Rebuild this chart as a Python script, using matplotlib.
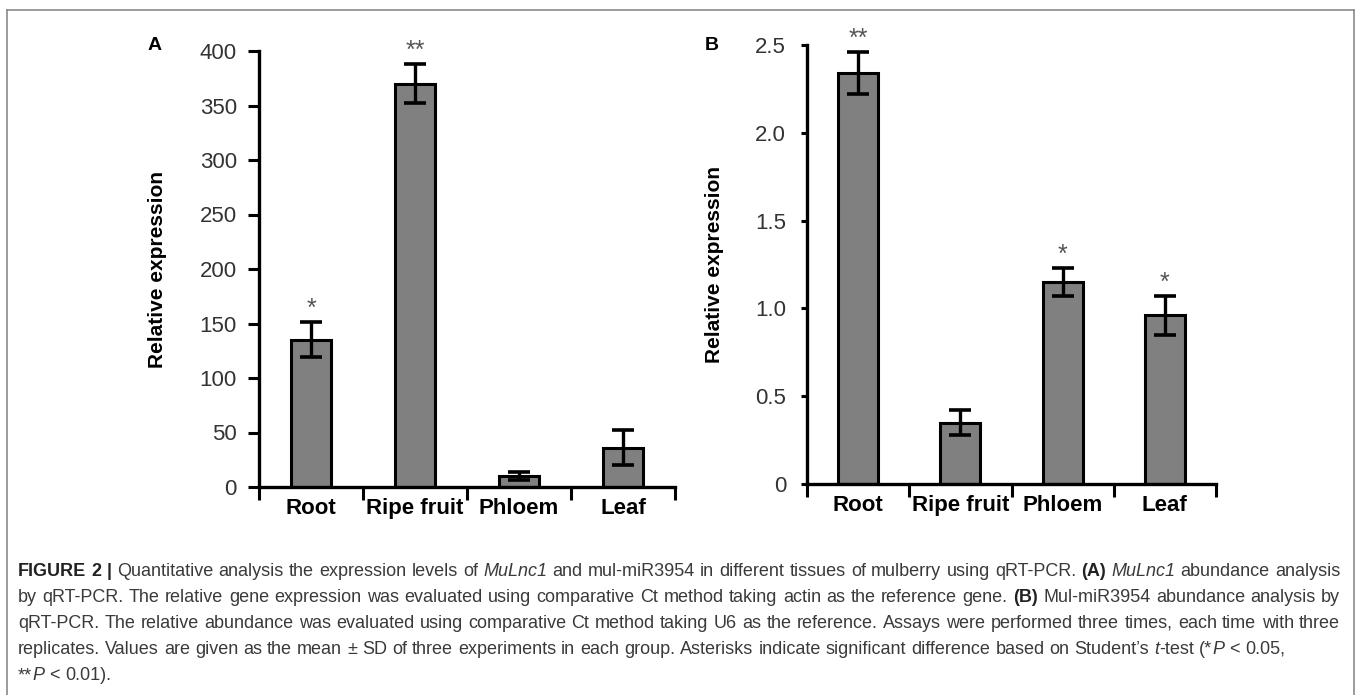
import matplotlib
matplotlib.use("Agg")
import matplotlib.pyplot as plt
from matplotlib.lines import Line2D
import numpy as np

# ---------------- data ----------------
categories = ["Root", "Ripe fruit", "Phloem", "Leaf"]

a_values = [135, 370, 10, 36]
a_errors = [16, 18, 4, 16]
a_marks = ["*", "**", "", ""]
a_yticks = [0, 50, 100, 150, 200, 250, 300, 350, 400]
a_ylabels = ["0", "50", "100", "150", "200", "250", "300", "350", "400"]

b_values = [2.34, 0.35, 1.15, 0.96]
b_errors = [0.12, 0.07, 0.08, 0.11]
b_marks = ["**", "", "*", "*"]
b_yticks = [0, 0.5, 1.0, 1.5, 2.0, 2.5]
b_ylabels = ["0", "0.5", "1.0", "1.5", "2.0", "2.5"]

ylabel_text = "Relative expression"

caption_lines = [
    [("FIGURE 2 |", "b"), (" Quantitative analysis the expression levels of ", "n"), ("MuLnc1", "i"),
     (" and mul-miR3954 in different tissues of mulberry using qRT-PCR. ", "n"), ("(A)", "b"), (" ", "n"),
     ("MuLnc1", "i"), (" abundance analysis", "n")],
    [("by qRT-PCR. The relative gene expression was evaluated using comparative Ct method taking actin as the reference gene. ", "n"),
     ("(B)", "b"), (" Mul-miR3954 abundance analysis by", "n")],
    [("qRT-PCR. The relative abundance was evaluated using comparative Ct method taking U6 as the reference. Assays were performed three times, each time with three", "n")],
    [("replicates. Values are given as the mean \u00b1 SD of three experiments in each group. Asterisks indicate significant difference based on Student\u2019s ", "n"),
     ("t", "i"), ("-test (*", "n"), ("P", "i"), (" < 0.05,", "n")],
    [("**", "n"), ("P", "i"), (" < 0.01).", "n")],
]
caption_justify = [True, True, True, False, False]

# ---------------- style ----------------
W, H = 1358, 695
plt.rcParams["font.family"] = ["Liberation Sans", "DejaVu Sans"]
fig = plt.figure(figsize=(W / 100, H / 100), dpi=100)
fig.patch.set_facecolor("white")

BAR_COLOR = "#808080"
TICK_COLOR = "#333333"


def px_rect(left, right, y0, ytop):
    return [left / W, 1 - y0 / H, (right - left) / W, (y0 - ytop) / H]


def panel(rect, values, errors, marks, yticks, ylabels, ymax, letter, letter_xy,
          ytick_len, ytick_pad, ylabel_x):
    ax = fig.add_axes(rect)
    x = np.arange(len(categories)) + 0.5
    ax.bar(x, values, width=0.39, color=BAR_COLOR, edgecolor="black", linewidth=2.2, zorder=2)
    ax.errorbar(x, values, yerr=errors, fmt="none", ecolor="black", elinewidth=2.4,
                capsize=8, capthick=2.6, zorder=3)
    for xi, v, e, m in zip(x, values, errors, marks):
        if m:
            ax.annotate(m, (xi, v + e), xytext=(0, 1), textcoords="offset points",
                        ha="center", va="bottom", fontsize=18, color="#555555",
                        annotation_clip=False)
    ax.set_xlim(0, len(categories))
    ax.set_ylim(0, ymax)
    for s in ["top", "right"]:
        ax.spines[s].set_visible(False)
    for s in ["left", "bottom"]:
        ax.spines[s].set_linewidth(2.4)
    ax.set_yticks(yticks)
    ax.set_yticklabels(ylabels, fontsize=16, color=TICK_COLOR)
    ax.tick_params(axis="y", direction="out", length=ytick_len, width=2.2, pad=ytick_pad)
    # x: ticks at category boundaries, labels at centers
    ax.set_xticks(np.arange(len(categories) + 1))
    ax.set_xticklabels([""] * (len(categories) + 1))
    ax.set_xticks(x, minor=True)
    ax.set_xticklabels(categories, minor=True, fontsize=16, fontweight="bold")
    ax.tick_params(axis="x", which="major", direction="out", length=9, width=2.2)
    ax.tick_params(axis="x", which="minor", length=0, pad=8)
    ax.set_ylabel(ylabel_text, fontsize=15, fontweight="bold")
    ax.yaxis.set_label_coords(ylabel_x, 0.5)
    fig.text(letter_xy[0] / W, 1 - letter_xy[1] / H, letter, fontsize=14, fontweight="bold",
             ha="center", va="center")
    return ax


axA = panel(px_rect(259, 675, 487, 51), a_values, a_errors, a_marks, a_yticks, a_ylabels,
            400, "A", (155, 45), 8, 8, -0.221)
axB = panel(px_rect(807, 1216, 484, 45), b_values, b_errors, b_marks, b_yticks, b_ylabels,
            2.5, "B", (712, 45), 4, 11, -0.203)

# ---------------- frame ----------------
frame_color = "#8a8a8a"
fig.add_artist(Line2D([7 / W, 7 / W], [0, 1 - 10 / H], color=frame_color, lw=1.2,
                      transform=fig.transFigure))
fig.add_artist(Line2D([1354 / W, 1354 / W], [0, 1 - 10 / H], color=frame_color, lw=1.2,
                      transform=fig.transFigure))
fig.add_artist(Line2D([7 / W, 1354 / W], [1 - 10 / H, 1 - 10 / H], color=frame_color, lw=1.2,
                      transform=fig.transFigure))

# ---------------- caption ----------------
renderer = fig.canvas.get_renderer()
CAP_SIZE = 13.0
CAP_COLOR = "#3a3a3a"
style_kw = {
    "n": dict(fontweight="normal", fontstyle="normal", color=CAP_COLOR),
    "b": dict(fontweight="bold", fontstyle="normal", color="#222222"),
    "i": dict(fontweight="normal", fontstyle="italic", color=CAP_COLOR),
}


def measure(s, st):
    t = fig.text(0, 0, s, fontsize=CAP_SIZE, **style_kw[st])
    w = t.get_window_extent(renderer).width
    t.remove()
    return w


def to_words(segs):
    words = [[]]
    for text, st in segs:
        buf = ""
        for ch in text:
            if ch == " ":
                if buf:
                    words[-1].append((buf, st))
                    buf = ""
                if words[-1]:
                    words.append([])
            else:
                buf += ch
        if buf:
            words[-1].append((buf, st))
    return [w for w in words if w]


space_w = measure("a a", "n") - measure("aa", "n")
x_left, x_right = 18, 1340
line_y = [576, 602, 628, 654, 680]
for segs, just, yy in zip(caption_lines, caption_justify, line_y):
    words = to_words(segs)
    widths = [[measure(p, st) for p, st in w] for w in words]
    total = sum(sum(ws) for ws in widths)
    if just and len(words) > 1:
        gap = (x_right - x_left - total) / (len(words) - 1)
    else:
        gap = space_w
    xc = x_left
    for w, ws in zip(words, widths):
        for (p, st), pw in zip(w, ws):
            fig.text(xc / W, 1 - yy / H, p, fontsize=CAP_SIZE, ha="left", va="baseline",
                     **style_kw[st])
            xc += pw
        xc += gap

fig.savefig("out.png", dpi=100, facecolor="white")
